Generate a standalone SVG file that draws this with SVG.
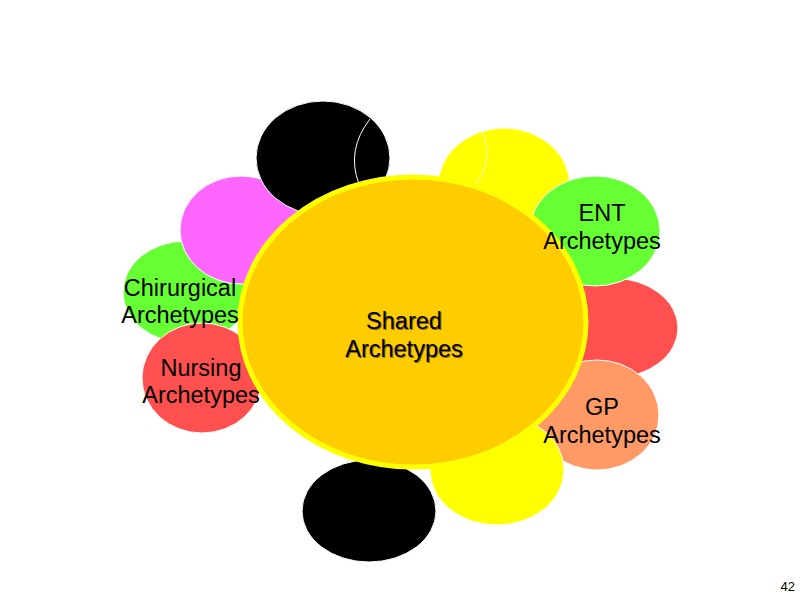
<svg xmlns="http://www.w3.org/2000/svg" width="800" height="600" viewBox="0 0 800 600">
<style>
.p{stroke:#ffffff;stroke-width:1}
.t{font-family:"Liberation Sans",Arial,sans-serif;font-size:23.5px;text-anchor:middle;fill:#000}
.s{font-family:"Liberation Sans",Arial,sans-serif;font-size:23.5px;text-anchor:middle}
</style>
<rect width="800" height="600" fill="#ffffff"/>
<g id="chirurgical"><ellipse class="p" cx="186" cy="292" rx="63" ry="51" fill="#66FF33"/></g>
<g id="magenta"><ellipse class="p" cx="241" cy="230" rx="61" ry="54" fill="#FF66FF"/></g>
<g id="nursing"><ellipse class="p" cx="202" cy="378" rx="60" ry="55" fill="#FF5050"/></g>
<g id="black-top"><ellipse class="p" cx="323" cy="158" rx="67" ry="57" fill="#000000"/>
<path d="M370,119 Q346,150 359,184" fill="none" stroke="#ffffff" stroke-width="1"/></g>
<g id="yellow-top"><ellipse class="p" cx="504" cy="186" rx="66" ry="58" fill="#FFFF00"/>
<path d="M482,132 Q494,160 476,184" fill="none" stroke="#ffffcc" stroke-width="1"/></g>
<g id="red-right"><ellipse class="p" cx="612" cy="328" rx="66" ry="50" fill="#FF5050"/></g>
<g id="ent"><ellipse class="p" cx="595" cy="231" rx="65" ry="55" fill="#66FF33"/></g>
<g id="gp"><ellipse class="p" cx="597" cy="415" rx="62" ry="55" fill="#FF9966"/></g>
<g id="black-bottom"><ellipse class="p" cx="369" cy="511" rx="67" ry="51" fill="#000000"/></g>
<g id="yellow-bottom"><ellipse class="p" cx="497" cy="470" rx="67" ry="55" fill="#FFFF00"/></g>
<g id="shared"><ellipse cx="413" cy="322" rx="173" ry="145" fill="#FFCC00" stroke="#FFFF00" stroke-width="5"/>
<text class="s" x="405" y="330" fill="#8a6a00">Shared</text>
<text class="s" x="405" y="358" fill="#8a6a00">Archetypes</text>
<text class="s" x="404" y="329" fill="#000">Shared</text>
<text class="s" x="404" y="357" fill="#000">Archetypes</text></g>
<g id="labels">
<text class="t" x="602" y="221">ENT</text><text class="t" x="602" y="249">Archetypes</text>
<text class="t" x="180" y="296">Chirurgical</text><text class="t" x="180" y="323">Archetypes</text>
<text class="t" x="201" y="376">Nursing</text><text class="t" x="201" y="403">Archetypes</text>
<text class="t" x="602" y="415">GP</text><text class="t" x="602" y="443">Archetypes</text>
</g>
<g id="connectors"></g>
<text x="795" y="591" font-family="Liberation Sans,Arial,sans-serif" font-size="13" text-anchor="end">42</text>
</svg>
